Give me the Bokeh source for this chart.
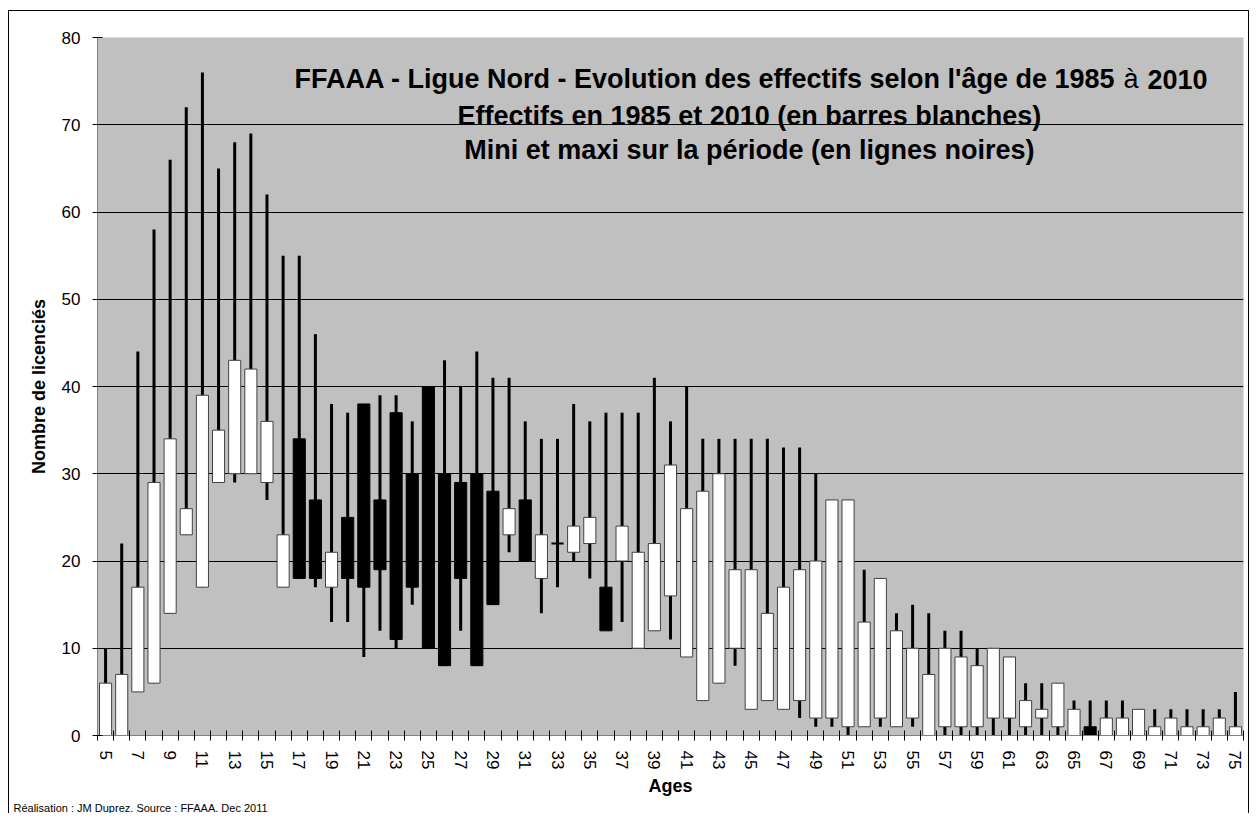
from bokeh.plotting import figure
from bokeh.models import Range1d, FixedTicker, Label, ColumnDataSource, Title
from bokeh.embed import file_html
from bokeh.resources import INLINE

# ---------------- data ----------------
ages = list(range(5, 76))
eff_1985 = [0, 0, 5, 6, 14, 23, 17, 29, 30, 30, 29, 17, 34, 27, 17, 25, 38, 27,
            37, 30, 40, 30, 29, 30, 28, 23, 27, 18, 22, 21, 22, 17, 20, 10, 12, 16,
            9, 4, 6, 10, 3, 4, 3, 4, 2, 2, 1, 1, 2, 1, 2, 0, 1, 1, 1, 2,
            2, 1, 2, 1, 0, 1, 0, 0, 0, 0, 0, 0, 0, 0, 0]
eff_2010 = [6, 7, 17, 29, 34, 26, 39, 35, 43, 42, 36, 23, 18, 18, 21, 18, 17, 19,
            11, 17, 10, 8, 18, 8, 15, 26, 20, 23, 22, 24, 25, 12, 24, 21, 22, 31,
            26, 28, 30, 19, 19, 14, 17, 19, 20, 27, 27, 13, 18, 12, 10, 7, 10, 9, 8, 10,
            9, 4, 3, 6, 3, 0, 2, 2, 3, 1, 2, 1, 1, 2, 1]
eff_min = [0, 0, 5, 6, 14, 23, 17, 29, 29, 30, 27, 17, 18, 17, 13, 13, 9, 12,
           10, 15, 10, 8, 12, 8, 15, 21, 20, 14, 17, 20, 18, 12, 13, 10, 12, 11,
           9, 4, 6, 8, 3, 4, 3, 2, 1, 1, 0, 1, 1, 1, 1, 0, 0, 0, 0, 0,
           0, 0, 0, 0, 0, 0, 0, 0, 0, 0, 0, 0, 0, 0, 0]
eff_max = [10, 22, 44, 58, 66, 72, 76, 65, 68, 69, 62, 55, 55, 46, 38, 37, 38, 39,
           39, 36, 40, 43, 40, 44, 41, 41, 36, 34, 34, 38, 36, 37, 37, 37, 41, 36,
           40, 34, 34, 34, 34, 34, 33, 33, 30, 27, 27, 19, 18, 14, 15, 14, 12, 12, 10, 10,
           9, 6, 6, 6, 4, 4, 4, 4, 3, 3, 3, 3, 3, 3, 5]
y_ticks = [0, 10, 20, 30, 40, 50, 60, 70, 80]
x_label_ages = list(range(5, 76, 2))

title_1a = "FFAAA - Ligue Nord - Evolution des effectifs selon l'âge de 1985"
title_1b = "à"
title_1c = "2010"
title_2 = "Effectifs en 1985 et 2010 (en barres blanches)"
title_3 = "Mini et maxi sur la période (en lignes noires)"
footnote = "Réalisation : JM Duprez. Source : FFAAA. Dec 2011"

# ---------------- derived ----------------
bar_bottom = [min(a, b) for a, b in zip(eff_1985, eff_2010)]
bar_top = [max(a, b) for a, b in zip(eff_1985, eff_2010)]
bar_fill = ["white" if b >= a else "black" for a, b in zip(eff_1985, eff_2010)]
bar_line = ["#404040" if (f == "white" and t != b) else "black"
            for f, t, b in zip(bar_fill, bar_top, bar_bottom)]
bar_lw = [2 if t == b else 1 for t, b in zip(bar_top, bar_bottom)]

src = ColumnDataSource(dict(x=ages, lo=eff_min, hi=eff_max, bottom=bar_bottom,
                            top=bar_top, fill=bar_fill, line=bar_line, lw=bar_lw))

FONT = "Liberation Sans"

p = figure(width=1249, height=813, output_backend="svg", toolbar_location=None,
           x_range=Range1d(4.5, 75.5), y_range=Range1d(0, 80),
           min_border_left=97, min_border_right=6, min_border_top=37,
           min_border_bottom=78)
p.border_fill_color = None
p.styles = {
    "background": ("linear-gradient(#000,#000) 8px 10px/1px 803px no-repeat, "
                   "linear-gradient(#000,#000) 8px 10px/1241px 1px no-repeat, "
                   "linear-gradient(#000,#000) 1248px 10px/1px 803px no-repeat, "
                   "#ffffff")
}
p.background_fill_color = "#C0C0C0"
p.outline_line_color = None

# grid
p.xgrid.grid_line_color = None
p.ygrid.grid_line_color = "black"
p.ygrid.grid_line_width = 1
p.ygrid.ticker = FixedTicker(ticks=y_ticks)

# y axis
p.yaxis.ticker = FixedTicker(ticks=y_ticks)
p.yaxis.axis_line_color = "#808080"
p.yaxis.major_tick_line_color = "black"
p.yaxis.major_tick_in = 5
p.yaxis.major_tick_out = 5
p.yaxis.minor_tick_line_color = None
p.yaxis.major_label_text_font = FONT
p.yaxis.major_label_text_font_size = "17px"
p.yaxis.major_label_text_color = "black"
p.yaxis.major_label_standoff = 12
p.yaxis.axis_label = "Nombre de licenciés"
p.yaxis.axis_label_text_font = FONT
p.yaxis.axis_label_text_font_size = "18px"
p.yaxis.axis_label_text_font_style = "bold"
p.yaxis.axis_label_text_color = "black"
p.yaxis.axis_label_standoff = 10

# x axis
boundaries = [a - 0.5 for a in ages] + [ages[-1] + 0.5]
p.xaxis.ticker = FixedTicker(ticks=x_label_ages, minor_ticks=boundaries)
p.xaxis.axis_line_color = "#808080"
p.xaxis.major_tick_line_color = None
p.xaxis.major_tick_in = 0
p.xaxis.major_tick_out = 0
p.xaxis.minor_tick_line_color = "black"
p.xaxis.minor_tick_in = 5
p.xaxis.minor_tick_out = 5
p.xaxis.major_label_orientation = "vertical"
p.xaxis.major_label_text_font = FONT
p.xaxis.major_label_text_font_size = "17px"
p.xaxis.major_label_text_color = "black"
p.xaxis.major_label_standoff = 10
p.xaxis.axis_label = "Ages"
p.xaxis.axis_label_text_font = FONT
p.xaxis.axis_label_text_font_size = "18px"
p.xaxis.axis_label_text_font_style = "bold"
p.xaxis.axis_label_text_color = "black"
p.xaxis.axis_label_standoff = 4

# footnote below the x axis (as a layout title so it is not clipped)
p.add_layout(Title(text=footnote, align="left", offset=-84, standoff=0,
                   text_font=FONT, text_font_size="11px",
                   text_font_style="normal", text_color="black"), "below")

# marks: min-max lines, then 1985/2010 bars
p.segment(x0="x", y0="lo", x1="x", y1="hi", source=src, line_color="black",
          line_width=3)
p.vbar(x="x", bottom="bottom", top="top", width=0.75, source=src,
       fill_color="fill", line_color="line", line_width="lw")

# title lines inside the plot area
def add_label(x, y, text, align, style="bold", size="27px"):
    p.add_layout(Label(x=x, y=y, text=text, text_align=align,
                       text_baseline="alphabetic", text_font=FONT,
                       text_font_size=size, text_font_style=style,
                       text_color="black"))

add_label(67.57, 75.19, title_1a, "right")
add_label(68.53, 75.19, title_1b, "center", style="normal")
add_label(69.55, 75.19, title_1c, "left")
add_label(44.89, 71.06, title_2, "center")
add_label(44.89, 67.05, title_3, "center")

open("out.html", "w").write(file_html(p, INLINE))
